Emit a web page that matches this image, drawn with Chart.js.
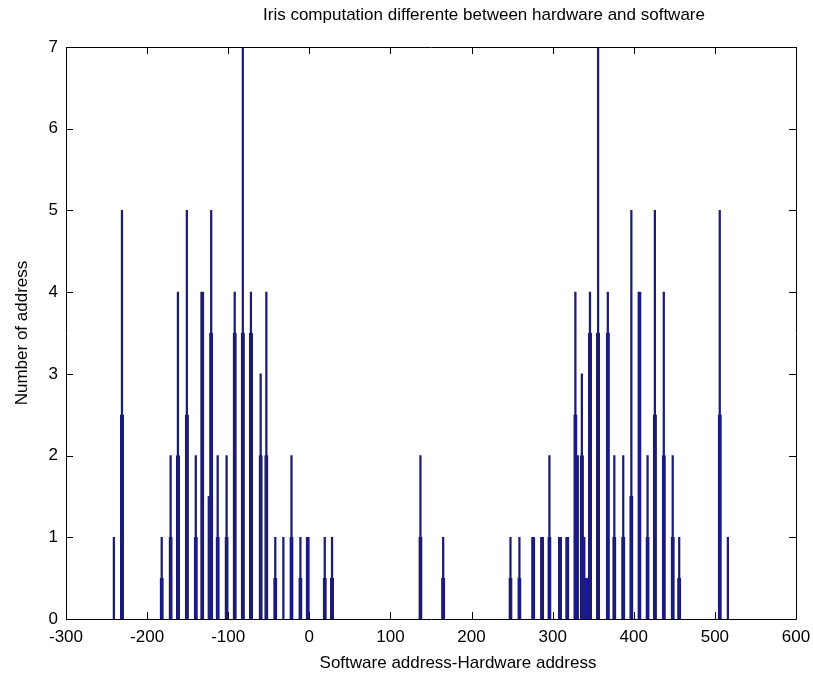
<!DOCTYPE html>
<html>
<head>
<meta charset="utf-8">
<script src="https://cdn.jsdelivr.net/npm/chart.js@4/dist/chart.umd.min.js"></script>
<style>
  body { margin: 0; background: #fff; }
  #wrap { width: 813px; height: 677px; }
</style>
</head>
<body>
<div id="wrap"><canvas id="iris_chart" width="813" height="677"></canvas></div>
<script>
// address differences (software - hardware) and how many addresses hit each one
const diffAddr = [-241, -231, -182, -171, -162, -151, -140, -132, -124, -121, -113, -102, -92, -82, -72, -60, -53, -42, -32, -22, -11, -2, 19, 28,
  137, 165,
  248, 259, 276, 287, 296, 309, 318, 328, 331, 336, 339, 346, 356, 368, 376, 387, 397, 407, 417, 426, 437, 448, 456, 506, 516]
const diffCount = [1, 5, 1, 2, 4, 5, 2, 4, 1.5, 5, 2, 2, 4, 7, 4, 3, 4, 1, 1, 2, 1, 1, 1, 1,
  2, 1,
  1, 1, 1, 1, 2, 1, 1, 4, 2, 3, 1, 4, 7, 4, 2, 2, 5, 4, 2, 5, 4, 2, 1, 5, 1]

// the wider lower part under each spike
const baseAddr = [-231, -182, -171, -162, -151, -140, -132, -121, -113, -102, -92, -82, -72, -60, -53, -42, -22, -11, -2, 19, 28,
  137, 165,
  248, 259, 276, 287, 296, 309, 318, 328, 336, 341, 346, 356, 368, 376, 387, 397, 407, 417, 426, 437, 448, 456, 506]
const baseCount = [2.5, 0.5, 1, 2, 2.5, 1, 4, 3.5, 1, 1, 3.5, 3.5, 3.5, 2, 2, 0.5, 1, 0.5, 1, 0.5, 0.5,
  1, 0.5,
  0.5, 0.5, 1, 1, 1, 1, 1, 2.5, 2, 0.5, 3.5, 3.5, 3.5, 1, 1, 1.5, 4, 1, 2.5, 2, 1, 0.5, 2.5]

const xTicks = [-300, -200, -100, 0, 100, 200, 300, 400, 500, 600]
const yTicks = [0, 1, 2, 3, 4, 5, 6, 7]

const titleText = "Iris computation differente between hardware and software"
const xTitle = "Software address-Hardware address"
const yTitle = "Number of address"

const fontName = "'Liberation Sans', Arial, sans-serif"

function toPoints(xs, ys){
  let pts = []
  for (let i = 0; i < xs.length; i++){
    pts.push({x: xs[i], y: ys[i]})
  }
  return pts
}

// box round the plot, inward ticks on all four sides, and the text
const matlabAxes = {
  id: "matlabAxes",
  afterDraw(chart){
    const ctx = chart.ctx
    const a = chart.chartArea
    const xs = chart.scales.x
    const ys = chart.scales.y
    const tl = 7

    ctx.save()
    ctx.strokeStyle = "#000"
    ctx.lineWidth = 1
    ctx.beginPath()
    ctx.rect(Math.round(a.left) + 0.5, Math.round(a.top) + 0.5, Math.round(a.right - a.left), Math.round(a.bottom - a.top))
    ctx.stroke()

    ctx.beginPath()
    xTicks.forEach(v => {
      let px = Math.round(xs.getPixelForValue(v)) + 0.5
      ctx.moveTo(px, a.bottom); ctx.lineTo(px, a.bottom - tl)
      ctx.moveTo(px, a.top); ctx.lineTo(px, a.top + tl)
    })
    yTicks.forEach(v => {
      let py = Math.round(ys.getPixelForValue(v)) + 0.5
      ctx.moveTo(a.left, py); ctx.lineTo(a.left + tl, py)
      ctx.moveTo(a.right, py); ctx.lineTo(a.right - tl, py)
    })
    ctx.stroke()

    ctx.fillStyle = "#000"
    ctx.textAlign = "center"
    ctx.textBaseline = "middle"
    ctx.font = "17px " + fontName
    ctx.fillText(titleText, 484, 15)

    ctx.fillText(xTitle, 458, 663)

    ctx.translate(22, (a.top + a.bottom) / 2)
    ctx.rotate(-Math.PI / 2)
    ctx.fillText(yTitle, 0, 0)
    ctx.restore()
  }
}

function render_chart(){
  const node = document.getElementById("iris_chart").getContext("2d")

  new Chart(node, {
    type: "bar",
    data: {
      datasets: [
        {
          data: toPoints(diffAddr, diffCount),
          backgroundColor: "#1c1c78",
          barThickness: 1.6,
          grouped: false,
          order: 1
        },
        {
          data: toPoints(baseAddr, baseCount),
          backgroundColor: "#1515c4",
          borderColor: "#1c1c6c",
          borderWidth: 1,
          barThickness: 3.5,
          grouped: false,
          order: 2
        }
      ]
    },
    options: {
      responsive: false,
      animation: false,
      devicePixelRatio: 1,
      layout: { padding: { left: 0, right: 17, top: 47, bottom: 0 } },
      plugins: { legend: { display: false }, tooltip: { enabled: false }, title: { display: false } },
      scales: {
        x: {
          type: "linear",
          min: -300,
          max: 600,
          offset: false,
          afterBuildTicks: s => { s.ticks = xTicks.map(v => ({ value: v })) },
          afterFit: s => { s.height = 58; s.paddingLeft = 0; s.paddingRight = 0 },
          grid: { display: false, drawTicks: false },
          border: { display: false },
          ticks: { color: "#000", padding: 8, maxRotation: 0, font: { family: fontName, size: 17 } }
        },
        y: {
          min: 0,
          max: 7,
          afterBuildTicks: s => { s.ticks = yTicks.map(v => ({ value: v })) },
          afterFit: s => { s.width = 66; s.paddingTop = 0; s.paddingBottom = 0 },
          grid: { display: false, drawTicks: false },
          border: { display: false },
          ticks: { color: "#000", padding: 8, font: { family: fontName, size: 17 } }
        }
      }
    },
    plugins: [matlabAxes]
  })
}

render_chart()
</script>
</body>
</html>
